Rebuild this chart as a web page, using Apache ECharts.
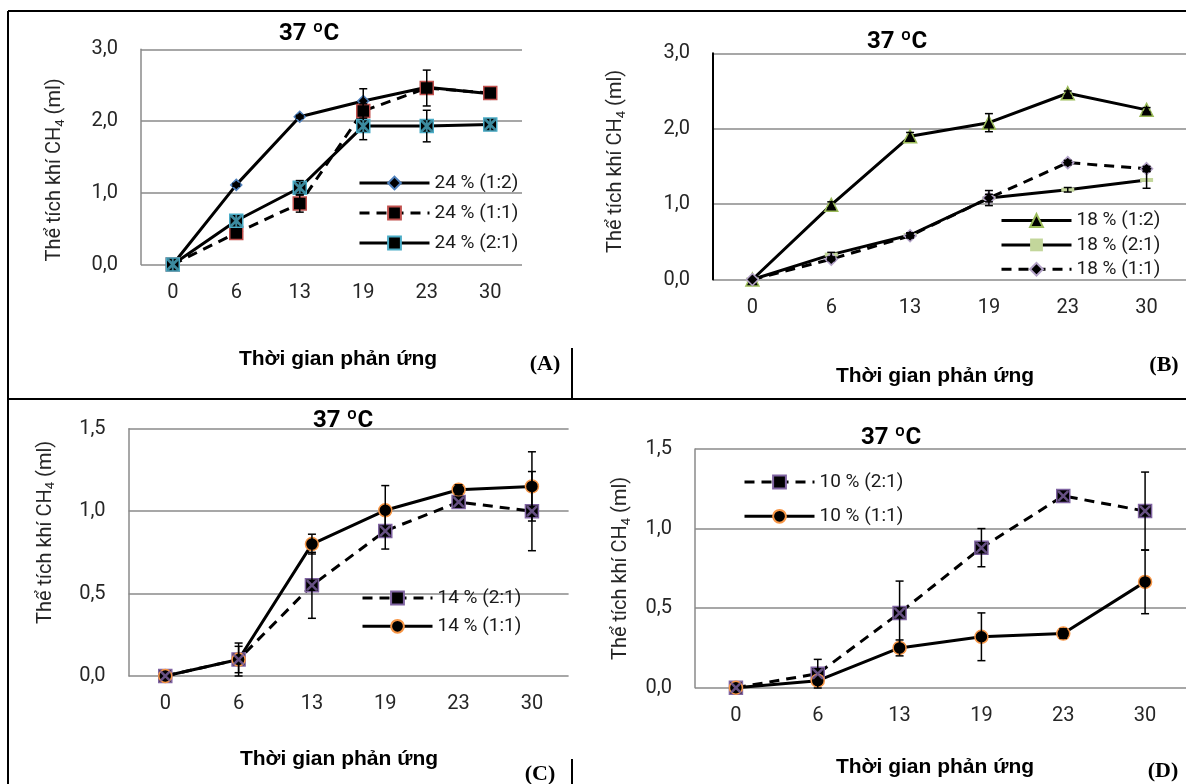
<!DOCTYPE html>
<html>
<head>
<meta charset="utf-8">
<script src="https://cdn.jsdelivr.net/npm/echarts@6/dist/echarts.min.js"></script>
<style>
  html, body { margin: 0; padding: 0; background: #fff; }
  #main { width: 1186px; height: 784px; }
</style>
</head>
<body>
<div id="main"></div>
<script>
// thời gian phản ứng (ngày)
var categories = ['0', '6', '13', '19', '23', '30'];

// (A) 24 %
var a12 = [0, 1.11, 2.06, 2.28, 2.47, 2.38];
var a12Err = [0, 0.02, 0.02, 0.17, 0.05, 0.02];
var a11 = [0, 0.44, 0.85, 2.14, 2.46, 2.39];
var a11Err = [0, 0.03, 0.12, 0.10, 0.25, 0.02];
var a21 = [0, 0.61, 1.07, 1.93, 1.93, 1.95];
var a21Err = [0, 0.03, 0.10, 0.19, 0.22, 0.02];

// (B) 18 %
var b12 = [0, 0.99, 1.90, 2.08, 2.47, 2.25];
var b12Err = [0, 0.04, 0.05, 0.12, 0.03, 0.03];
var b21 = [0, 0.33, 0.59, 1.08, 1.19, 1.32];
var b21Err = [0, 0.03, 0.03, 0.10, 0.03, 0.11];
var b11 = [0, 0.27, 0.58, 1.08, 1.55, 1.47];
var b11Err = [0, 0.02, 0.03, 0.05, 0.03, 0.03];

// (C) 14 %
var c21 = [0, 0.10, 0.55, 0.88, 1.055, 1.00];
var c21Err = [0, 0.08, 0.20, 0.11, 0.03, 0.24];
var c11 = [0, 0.10, 0.80, 1.005, 1.13, 1.15];
var c11Err = [0, 0.10, 0.06, 0.15, 0.03, 0.21];

// (D) 10 %
var d21 = [0, 0.088, 0.47, 0.88, 1.205, 1.11];
var d21Err = [0, 0.09, 0.20, 0.12, 0.02, 0.245];
var d11 = [0, 0.044, 0.25, 0.32, 0.34, 0.665];
var d11Err = [0, 0.02, 0.05, 0.15, 0.03, 0.20];

var yTicksA = [0, 3, 1];   // min, max, interval
var yTicksC = [0, 1.5, 0.5];

var myChart = echarts.init(document.getElementById('main'));

var labelFont = 'Roboto, "Noto Sans", sans-serif';
var gridColor = '#8a8a8a';

var crossPath = 'path://M0,0L1.6,0L10,8.4L10,10L8.4,10L0,1.6Z M8.4,0L10,0L10,1.6L1.6,10L0,10L0,8.4Z';
var starPath = crossPath + ' M4.2,0L5.8,0L5.8,10L4.2,10Z';
var dashPath = 'path://M0,0L13,0L13,4L0,4Z';

var fmt = function(v) {
  return v.toFixed(1).replace('.', ',');
};

var makeX = function(idx) {
  return {
    type: 'category',
    gridIndex: idx,
    data: categories,
    axisLine: { show: false },
    axisTick: { show: false },
    axisLabel: { fontSize: 20, margin: 18, color: '#262626', fontFamily: labelFont }
  };
};

var makeY = function(idx, ticks, gap, pad, axisColor, axisWidth) {
  return {
    type: 'value',
    gridIndex: idx,
    min: ticks[0],
    max: ticks[1],
    interval: ticks[2],
    axisLine: { show: true, lineStyle: { color: axisColor, width: axisWidth } },
    axisTick: { show: false },
    splitLine: { lineStyle: { color: gridColor, width: 1.5 } },
    axisLabel: { fontSize: 20, margin: 23, color: '#262626', fontFamily: labelFont, formatter: fmt },
    name: '{a|Thể tích khí CH}{b|4}{a| (ml)}',
    nameLocation: 'middle',
    nameRotate: 90,
    nameGap: gap,
    nameTextStyle: {
      padding: pad,
      rich: {
        a: { fontSize: 20, lineHeight: 24, color: '#262626', fontFamily: labelFont },
        b: { fontSize: 13, lineHeight: 24, color: '#262626', fontFamily: labelFont, verticalAlign: 'bottom' }
      }
    }
  };
};

var line = function(name, data, idx, symbol, size, border, dashed) {
  return {
    name: name,
    type: 'line',
    xAxisIndex: idx,
    yAxisIndex: idx,
    data: data,
    symbol: symbol,
    symbolSize: size,
    symbolKeepAspect: true,
    showAllSymbol: true,
    z: 2,
    lineStyle: { color: '#000', width: 3, type: dashed ? [10, 7] : 'solid' },
    itemStyle: { color: border ? '#000' : '#c3d69b', borderColor: border || '#c3d69b', borderWidth: border ? 1.5 : 0 }
  };
};

var overlay = function(data, idx, path, color, size) {
  return {
    type: 'scatter',
    xAxisIndex: idx,
    yAxisIndex: idx,
    data: data,
    symbol: path,
    symbolSize: size,
    silent: true,
    z: 5,
    itemStyle: { color: color }
  };
};

var renderErr = function(params, api) {
  var x = api.value(0), y = api.value(1), e = api.value(2);
  if (!e) return;
  var top = api.coord([x, y + e]);
  var bot = api.coord([x, y - e]);
  var w = 4;
  var st = { stroke: '#000', lineWidth: 1.5 };
  return {
    type: 'group',
    children: [
      { type: 'line', shape: { x1: top[0], y1: top[1], x2: bot[0], y2: bot[1] }, style: st },
      { type: 'line', shape: { x1: top[0] - w, y1: top[1], x2: top[0] + w, y2: top[1] }, style: st },
      { type: 'line', shape: { x1: bot[0] - w, y1: bot[1], x2: bot[0] + w, y2: bot[1] }, style: st }
    ]
  };
};

var errBars = function(vals, errs, idx) {
  var d = [];
  for (var i = 0; i < vals.length; i++) {
    d.push([i, vals[i], errs[i]]);
  }
  return {
    type: 'custom',
    xAxisIndex: idx,
    yAxisIndex: idx,
    renderItem: renderErr,
    encode: { x: 0, y: 1 },
    data: d,
    clip: false,
    silent: true,
    z: 3
  };
};

var legend = function(names, left, top, gap) {
  return {
    orient: 'vertical',
    left: left,
    top: top,
    itemWidth: 70,
    itemHeight: 16,
    itemGap: gap,
    selectedMode: false,
    lineStyle: { width: 3 },
    textStyle: { fontSize: 19, lineHeight: 20, color: '#1a1a1a', fontFamily: labelFont },
    data: names
  };
};

var text = function(str, x, y, font) {
  return {
    type: 'text',
    x: x,
    y: y,
    style: { text: str, font: font, fill: '#000', textAlign: 'center', textVerticalAlign: 'middle' }
  };
};

var rule = function(x1, y1, x2, y2) {
  return {
    type: 'line',
    shape: { x1: x1, y1: y1, x2: x2, y2: y2 },
    style: { stroke: '#000', lineWidth: 2 }
  };
};

var titleFont = 'bold 24px Roboto, sans-serif';
var nameFont = 'bold 21px "Liberation Sans", Arial, sans-serif';
var tagFont = 'bold 22px "Liberation Serif", "Times New Roman", serif';

var option = {
  animation: false,
  grid: [
    { left: 141, top: 49.3, width: 381, height: 215.2 },
    { left: 713, top: 53.3, width: 477, height: 226.2 },
    { left: 128.6, top: 428.7, width: 440, height: 247.3 },
    { left: 695, top: 449, width: 500, height: 238.7 }
  ],
  xAxis: [makeX(0), makeX(1), makeX(2), makeX(3)],
  yAxis: [
    makeY(0, yTicksA, 74, [0, 26, 0, 0], gridColor, 1.5),
    makeY(1, yTicksA, 85, [0, 0, 0, 10], '#000', 2),
    makeY(2, yTicksC, 71, [0, 0, 0, 40], gridColor, 1.5),
    makeY(3, yTicksC, 62, [0, 0, 0, 0], gridColor, 1.5)
  ],
  legend: [
    legend(['24 % (1:2)', '24 % (1:1)', '24 % (2:1)'], 353, 168, 10),
    legend(['18 % (1:2)', '18 % (2:1)', '18 % (1:1)'], 995, 205.5, 4.4),
    legend(['14 % (2:1)', '14 % (1:1)'], 356, 583, 8.3),
    legend(['10 % (2:1)', '10 % (1:1)'], 738, 467, 14.3)
  ],
  series: [
    line('24 % (1:2)', a12, 0, 'diamond', 11, '#4f81bd', false),
    line('24 % (1:1)', a11, 0, 'rect', 13, '#c0504d', true),
    line('24 % (2:1)', a21, 0, 'rect', 13, '#4bacc6', false),
    overlay(a21, 0, starPath, '#4bacc6', 12),
    errBars(a12, a12Err, 0),
    errBars(a11, a11Err, 0),
    errBars(a21, a21Err, 0),

    line('18 % (1:2)', b12, 1, 'triangle', 13, '#9bbb59', false),
    line('18 % (2:1)', b21, 1, dashPath, 13, null, false),
    line('18 % (1:1)', b11, 1, 'diamond', 12, '#b3a2c7', true),
    errBars(b12, b12Err, 1),
    errBars(b21, b21Err, 1),
    errBars(b11, b11Err, 1),

    line('14 % (2:1)', c21, 2, 'rect', 13, '#8064a2', true),
    line('14 % (1:1)', c11, 2, 'circle', 13, '#f79646', false),
    overlay(c21, 2, crossPath, '#8064a2', 11),
    errBars(c21, c21Err, 2),
    errBars(c11, c11Err, 2),

    line('10 % (2:1)', d21, 3, 'rect', 13, '#8064a2', true),
    line('10 % (1:1)', d11, 3, 'circle', 13, '#f79646', false),
    overlay(d21, 3, crossPath, '#8064a2', 11),
    errBars(d21, d21Err, 3),
    errBars(d11, d11Err, 3)
  ],
  graphic: [
    // khung
    rule(8, 11, 1186, 11),
    rule(8, 11, 8, 784),
    rule(8, 399, 1186, 399),
    rule(572, 348, 572, 399),
    rule(572, 759, 572, 784),
    // tiêu đề
    text('37 ºC', 309, 34, titleFont),
    text('37 ºC', 897, 42, titleFont),
    text('37 ºC', 343, 421, titleFont),
    text('37 ºC', 891, 438, titleFont),
    // trục hoành
    text('Thời gian phản ứng', 338, 359, nameFont),
    text('Thời gian phản ứng', 935, 376, nameFont),
    text('Thời gian phản ứng', 339, 759, nameFont),
    text('Thời gian phản ứng', 935, 767, nameFont),
    // nhãn
    text('(A)', 545, 364, tagFont),
    text('(B)', 1164, 365, tagFont),
    text('(C)', 540, 774, tagFont),
    text('(D)', 1163, 771, tagFont)
  ]
};

myChart.setOption(option);
</script>
</body>
</html>
